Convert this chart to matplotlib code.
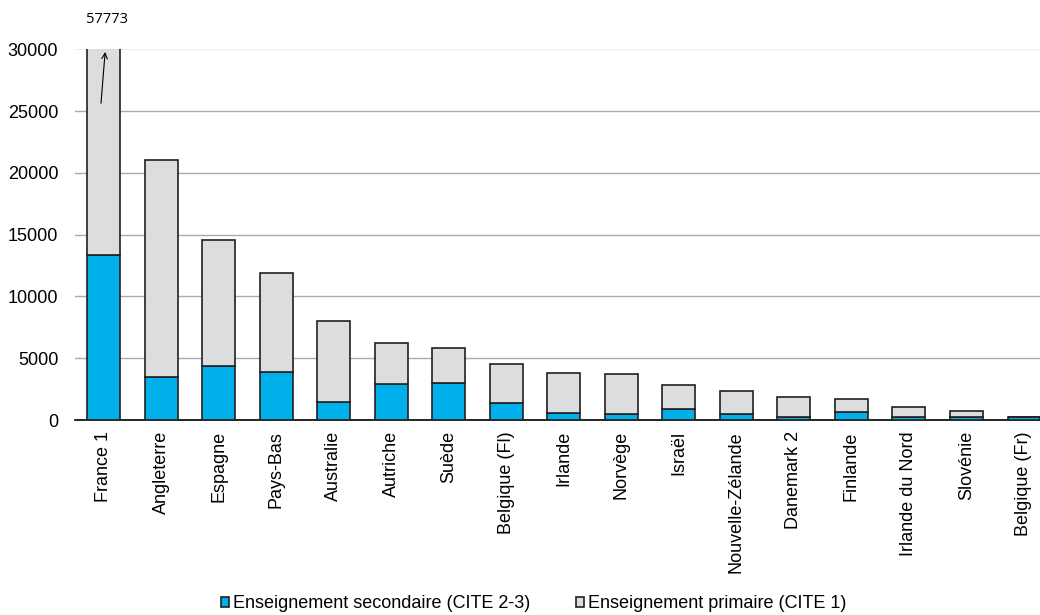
import matplotlib.pyplot as plt
import numpy as np

plt.rcParams['font.family'] = ['Liberation Sans', 'DejaVu Sans']

pays = ['France 1', 'Angleterre', 'Espagne', 'Pays-Bas', 'Australie', 'Autriche',
        'Suède', 'Belgique (Fl)', 'Irlande', 'Norvège', 'Israël', 'Nouvelle-Zélande',
        'Danemark 2', 'Finlande', 'Irlande du Nord', 'Slovénie', 'Belgique (Fr)']
secondaire = [13340, 3480, 4370, 3880, 1460, 2910, 2990, 1370, 570, 490, 865, 480,
              220, 670, 250, 220, 220]
total = [57773, 21020, 14550, 11880, 8000, 6225, 5820, 4530, 3800, 3720, 2850, 2310,
         1830, 1720, 1050, 750, 250]
primaire = [t - s for t, s in zip(total, secondaire)]

fig = plt.figure(figsize=(10.4, 6.15), dpi=100)
ax = fig.add_axes([0.072, 0.317, 0.928, 0.603])

x = np.arange(len(pays))
bleu = '#00b0ea'
gris = '#dcdddf'
bord = '#231f20'

ax.bar(x, secondaire, width=0.57, color=bleu, edgecolor=bord, linewidth=1.2,
       label='Enseignement secondaire (CITE 2-3)', zorder=3)
ax.bar(x, primaire, width=0.57, bottom=secondaire, color=gris, edgecolor=bord,
       linewidth=1.2, label='Enseignement primaire (CITE 1)', zorder=3)

ax.set_ylim(0, 30000)
ax.set_xlim(-0.5, 16.28)
ax.set_yticks(range(0, 30001, 5000))
ax.yaxis.grid(True, color='#aaaaaa', linewidth=1)
ax.get_ygridlines()[-1].set_color('#eeeeee')
ax.set_axisbelow(True)
for s in ['top', 'right', 'left']:
    ax.spines[s].set_visible(False)
ax.spines['bottom'].set_color('black')
ax.spines['bottom'].set_linewidth(1.2)
ax.tick_params(axis='both', length=0, labelsize=13)
ax.tick_params(axis='y', pad=12)
ax.tick_params(axis='x', pad=8)
ax.set_xticks(x)
ax.set_xticklabels(pays, rotation=90)

# valeur hors échelle pour la France
ax.annotate('', xy=(0.03, 30000), xytext=(-0.05, 25400),
            arrowprops=dict(arrowstyle='->', color='black', lw=0.8), annotation_clip=False)
ax.text(0.06, 32400, str(total[0]), fontsize=10.5, ha='center', va='center',
        family=['Open Sans', 'DejaVu Sans'])

fig.legend(loc='lower center', bbox_to_anchor=(0.513, -0.022), ncol=2, frameon=False,
           fontsize=13, handlelength=0.45, handleheight=0.45, handletextpad=0.22,
           columnspacing=2.5)

fig.savefig('out.png', dpi=100)
